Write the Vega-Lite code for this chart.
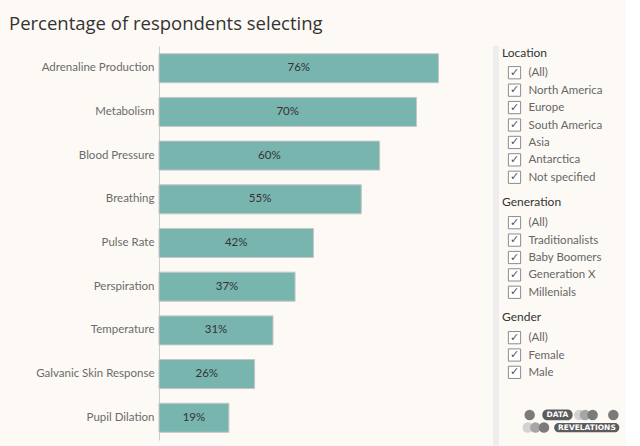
{
  "$schema": "https://vega.github.io/schema/vega-lite/v6.json",
  "background": "#fdfaf6",
  "padding": {"left": 9, "top": 3, "right": 0, "bottom": 0},
  "spacing": 3,
  "config": {"view": {"stroke": null}, "font": "Lato"},
  "datasets": {
    "bars": [
      {"factor": "Adrenaline Production", "pct": 0.76},
      {"factor": "Metabolism", "pct": 0.70},
      {"factor": "Blood Pressure", "pct": 0.60},
      {"factor": "Breathing", "pct": 0.55},
      {"factor": "Pulse Rate", "pct": 0.42},
      {"factor": "Perspiration", "pct": 0.37},
      {"factor": "Temperature", "pct": 0.31},
      {"factor": "Galvanic Skin Response", "pct": 0.26},
      {"factor": "Pupil Dilation", "pct": 0.19}
    ],
    "location": [
      {"item": "(All)"}, {"item": "North America"}, {"item": "Europe"}, {"item": "South America"},
      {"item": "Asia"}, {"item": "Antarctica"}, {"item": "Not specified"}
    ],
    "generation": [
      {"item": "(All)"}, {"item": "Traditionalists"}, {"item": "Baby Boomers"}, {"item": "Generation X"}, {"item": "Millenials"}
    ],
    "gender": [
      {"item": "(All)"}, {"item": "Female"}, {"item": "Male"}
    ],
    "logo": [
      {"kind": "dot", "x": 29, "y": 19, "tone": "dark"},
      {"kind": "dot", "x": 81, "y": 19, "tone": "light"},
      {"kind": "dot", "x": 87, "y": 19, "tone": "mid"},
      {"kind": "dot", "x": 95, "y": 19, "tone": "dark"},
      {"kind": "dot", "x": 116.7, "y": 19, "tone": "dark"},
      {"kind": "dot", "x": 27, "y": 31.5, "tone": "light"},
      {"kind": "dot", "x": 35, "y": 31.5, "tone": "mid"},
      {"kind": "dot", "x": 44, "y": 31.5, "tone": "dark"},
      {"kind": "pill", "x": 42.3, "x2": 74, "y": 13.6, "y2": 24.3, "label": "DATA", "cx": 58, "cy": 19},
      {"kind": "pill", "x": 54.7, "x2": 123, "y": 27, "y2": 36.3, "label": "REVELATIONS", "cx": 89, "cy": 31.5}
    ]
  },
  "hconcat": [
    {
      "title": {
        "text": "Percentage of respondents selecting",
        "fontSize": 18.5,
        "font": "Open Sans",
        "fontWeight": "normal",
        "color": "#333333",
        "anchor": "start",
        "frame": "bounds",
        "offset": 13
      },
      "width": 331,
      "height": 394,
      "data": {"name": "bars"},
      "encoding": {
        "y": {
          "field": "factor", "type": "nominal", "sort": null,
          "scale": {"paddingInner": 0.336, "paddingOuter": 0.177},
          "axis": {
            "title": null, "ticks": false, "labelPadding": 5, "labelFontSize": 11.5,
            "labelColor": "#6b6b6b", "domainColor": "#cccccc", "minExtent": 150, "maxExtent": 150,
            "labelFont": "Lato"
          }
        }
      },
      "layer": [
        {
          "mark": {"type": "bar", "color": "#78b5ae", "stroke": "#c6c6c6", "strokeWidth": 1},
          "encoding": {
            "x": {"field": "pct", "type": "quantitative", "scale": {"domain": [0, 0.9]}, "axis": null}
          }
        },
        {
          "transform": [{"calculate": "datum.pct / 2", "as": "mid"}],
          "mark": {"type": "text", "color": "#333333", "fontSize": 11.5, "font": "Lato"},
          "encoding": {
            "x": {"field": "mid", "type": "quantitative", "axis": null},
            "text": {"field": "pct", "type": "quantitative", "format": ".0%"}
          }
        }
      ]
    },
    {
      "title": {"text": " ", "fontSize": 10, "offset": 33},
      "width": 6,
      "height": 400,
      "view": {"fill": "#eeeeee", "stroke": null},
      "data": {"values": [{}]},
      "mark": {"type": "rect", "color": "#eeeeee"},
      "encoding": {}
    },
    {
      "spacing": 0,
      "vconcat": [
        {
          "width": 25, "height": 0.1,
          "data": {"values": [{}]},
          "mark": {"type": "rect", "opacity": 0},
          "encoding": {}
        },
        {
          "title": {"text": "Location", "fontSize": 12, "fontWeight": "normal", "color": "#333333", "anchor": "start", "offset": 4, "font": "Lato"},
          "width": 25, "height": 122,
          "data": {"name": "location"},
          "encoding": {
            "y": {"field": "item", "type": "nominal", "sort": null,
              "axis": {"orient": "right", "title": null, "ticks": false, "domain": false, "labelPadding": 1, "labelFontSize": 11.5, "labelColor": "#666666", "labelFont": "Lato"}}
          },
          "layer": [
            {"mark": {"type": "point", "shape": "square", "size": 150, "filled": true, "fill": "#ffffff", "stroke": "#8c8c8c", "strokeWidth": 1, "opacity": 1}},
            {"mark": {"type": "text", "text": "✓", "fontSize": 11, "color": "#555555", "font": "DejaVu Sans"}}
          ]
        },
        {
          "width": 25, "height": 9.9,
          "data": {"values": [{}]},
          "mark": {"type": "rect", "opacity": 0},
          "encoding": {}
        },
        {
          "title": {"text": "Generation", "fontSize": 12, "fontWeight": "normal", "color": "#333333", "anchor": "start", "offset": 5, "font": "Lato"},
          "width": 25, "height": 87,
          "data": {"name": "generation"},
          "encoding": {
            "y": {"field": "item", "type": "nominal", "sort": null,
              "axis": {"orient": "right", "title": null, "ticks": false, "domain": false, "labelPadding": 1, "labelFontSize": 11.5, "labelColor": "#666666", "labelFont": "Lato"}}
          },
          "layer": [
            {"mark": {"type": "point", "shape": "square", "size": 150, "filled": true, "fill": "#ffffff", "stroke": "#8c8c8c", "strokeWidth": 1, "opacity": 1}},
            {"mark": {"type": "text", "text": "✓", "fontSize": 11, "color": "#555555", "font": "DejaVu Sans"}}
          ]
        },
        {
          "width": 25, "height": 9.5,
          "data": {"values": [{}]},
          "mark": {"type": "rect", "opacity": 0},
          "encoding": {}
        },
        {
          "title": {"text": "Gender", "fontSize": 12, "fontWeight": "normal", "color": "#333333", "anchor": "start", "offset": 5, "font": "Lato"},
          "width": 25, "height": 52,
          "data": {"name": "gender"},
          "encoding": {
            "y": {"field": "item", "type": "nominal", "sort": null,
              "axis": {"orient": "right", "title": null, "ticks": false, "domain": false, "labelPadding": 1, "labelFontSize": 11.5, "labelColor": "#666666", "labelFont": "Lato"}}
          },
          "layer": [
            {"mark": {"type": "point", "shape": "square", "size": 150, "filled": true, "fill": "#ffffff", "stroke": "#8c8c8c", "strokeWidth": 1, "opacity": 1}},
            {"mark": {"type": "text", "text": "✓", "fontSize": 11, "color": "#555555", "font": "DejaVu Sans"}}
          ]
        },
        {
          "width": 25, "height": 14.5,
          "data": {"values": [{}]},
          "mark": {"type": "rect", "opacity": 0},
          "encoding": {}
        },
        {
          "width": 124, "height": 40,
          "data": {"name": "logo"},
          "layer": [
            {
              "transform": [{"filter": "datum.kind === 'dot'"}],
              "mark": {"type": "circle", "size": 110, "opacity": 1},
              "encoding": {
                "x": {"field": "x", "type": "quantitative", "scale": {"domain": [0, 124]}, "axis": null},
                "y": {"field": "y", "type": "quantitative", "scale": {"domain": [0, 40], "reverse": true}, "axis": null},
                "color": {"field": "tone", "type": "nominal", "scale": {"domain": ["light", "mid", "dark"], "range": ["#d2d2d2", "#a6a6a6", "#7b7b7b"]}, "legend": null}
              }
            },
            {
              "transform": [{"filter": "datum.kind === 'pill'"}],
              "mark": {"type": "rect", "color": "#5c5c5c", "cornerRadius": 5},
              "encoding": {
                "x": {"field": "x", "type": "quantitative", "axis": null},
                "x2": {"field": "x2"},
                "y": {"field": "y", "type": "quantitative", "axis": null},
                "y2": {"field": "y2"}
              }
            },
            {
              "transform": [{"filter": "datum.kind === 'pill'"}],
              "mark": {"type": "text", "color": "#ffffff", "fontSize": 7.5, "fontWeight": "bold", "font": "DejaVu Sans"},
              "encoding": {
                "x": {"field": "cx", "type": "quantitative", "axis": null},
                "y": {"field": "cy", "type": "quantitative", "axis": null},
                "text": {"field": "label"}
              }
            }
          ]
        }
      ]
    }
  ]
}
